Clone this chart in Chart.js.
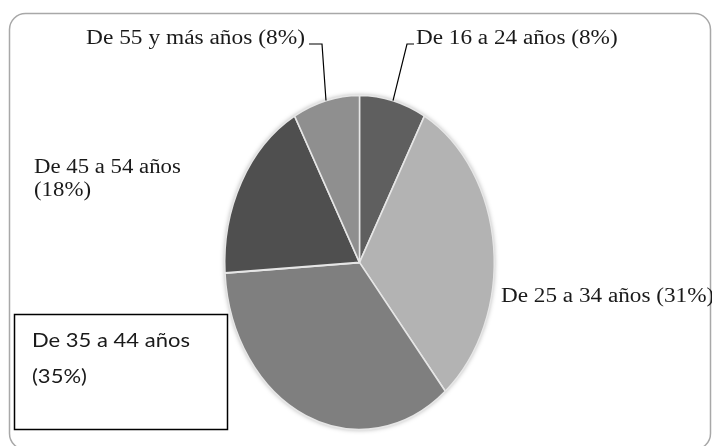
<!DOCTYPE html>
<html>
<head>
<meta charset="utf-8">
<script src="https://cdn.jsdelivr.net/npm/chart.js@4/dist/chart.umd.min.js"></script>
<style>
  body { margin: 0; background: #fff; }
  #wrap { width: 712px; height: 446px; }
</style>
</head>
<body>
<div id="wrap"><canvas id="graficoEdades" width="712" height="446"></canvas></div>
<script>
// datos del gráfico
const ageGroups = ['De 16 a 24 años', 'De 25 a 34 años', 'De 35 a 44 años', 'De 45 a 54 años', 'De 55 y más años'];
const shares = [8, 31, 35, 18, 8];

const sliceColors = ['#5f5f5f', '#b3b3b3', '#7f7f7f', '#4f4f4f', '#8f8f8f'];

// the pie in the picture is taller than wide
const STRETCH = 1.2407;

// frame, pie squash and shadow
const ellipsePlugin = {
  id: 'ellipse',
  beforeDraw(chart) {
    const ctx = chart.ctx;
    ctx.save();
    ctx.fillStyle = '#fff';
    ctx.fillRect(0, 0, chart.width, chart.height);
    ctx.strokeStyle = '#a8a8a8';
    ctx.lineWidth = 1.5;
    ctx.beginPath();
    ctx.roundRect(9.5, 13.5, 701, 436, 16);
    ctx.stroke();
    ctx.restore();
  },
  beforeDatasetsDraw(chart) {
    const arc = chart.getDatasetMeta(0).data[0];
    const ctx = chart.ctx;
    ctx.save();
    ctx.translate(arc.x, arc.y);
    ctx.scale(1, STRETCH);
    ctx.translate(-arc.x, -arc.y);
    ctx.save();
    ctx.shadowColor = 'rgba(0,0,0,0.35)';
    ctx.shadowBlur = 5;
    ctx.beginPath();
    ctx.arc(arc.x, arc.y, arc.outerRadius, 0, Math.PI * 2);
    ctx.fillStyle = '#fff';
    ctx.fill();
    ctx.restore();
  },
  afterDatasetsDraw(chart) {
    chart.ctx.restore();
  }
};

function drawStretched(ctx, text, x, y, sx) {
  ctx.save();
  ctx.translate(x, y);
  ctx.scale(sx, 1);
  ctx.fillText(text, 0, 0);
  ctx.restore();
}

// etiquetas con líneas guía
const labelPlugin = {
  id: 'sliceLabels',
  afterDraw(chart, args, opts) {
    const ctx = chart.ctx;
    const arcs = chart.getDatasetMeta(0).data;
    ctx.save();
    ctx.fillStyle = '#1a1a1a';
    ctx.textBaseline = 'alphabetic';
    ctx.textAlign = 'left';

    opts.items.forEach((item, i) => {
      const name = ageGroups[i];
      const pct = '(' + shares[i] + '%)';
      ctx.font = item.font;
      if (item.box) {
        ctx.strokeStyle = '#000';
        ctx.lineWidth = 1.5;
        ctx.strokeRect(item.box[0], item.box[1], item.box[2], item.box[3]);
      }
      if (item.split) {
        drawStretched(ctx, name, item.x, item.y, item.sx);
        drawStretched(ctx, pct, item.x, item.y + item.lineHeight, item.sx);
      } else {
        drawStretched(ctx, name + ' ' + pct, item.x, item.y, item.sx);
      }
      if (item.elbow) {
        const a = arcs[i];
        const mid = (a.startAngle + a.endAngle) / 2;
        const px = a.x + Math.cos(mid) * a.outerRadius;
        const py = a.y + Math.sin(mid) * a.outerRadius * STRETCH;
        ctx.strokeStyle = '#000';
        ctx.lineWidth = 1.2;
        ctx.beginPath();
        ctx.moveTo(px, py);
        ctx.lineTo(item.elbow[0], item.elbow[1]);
        ctx.lineTo(item.elbowEnd, item.elbow[1]);
        ctx.stroke();
      }
    });
    ctx.restore();
  }
};

const serif = '20px "Liberation Serif", "Times New Roman", serif';
const sans = '20px Lato, "Liberation Sans", Arial, sans-serif';

new Chart(document.getElementById('graficoEdades'), {
  type: 'pie',
  data: {
    labels: ageGroups,
    datasets: [{
      data: shares,
      backgroundColor: sliceColors,
      borderColor: '#e6e6e6',
      borderWidth: 1.5
    }]
  },
  options: {
    responsive: false,
    animation: false,
    layout: {
      padding: { left: 224, right: 217, top: 127, bottom: 48 }
    },
    plugins: {
      legend: { display: false },
      tooltip: { enabled: false },
      sliceLabels: {
        items: [
          { x: 416, y: 44, font: serif, sx: 1.16, elbow: [407, 44], elbowEnd: 414 },
          { x: 501, y: 302, font: serif, sx: 1.16 },
          { x: 32, y: 347, font: sans, sx: 1.1, split: true, lineHeight: 36, box: [14.5, 314.5, 213, 115] },
          { x: 34, y: 173, font: serif, sx: 1.14, split: true, lineHeight: 23 },
          { x: 86, y: 44, font: serif, sx: 1.17, elbow: [322, 44], elbowEnd: 309 }
        ]
      }
    }
  },
  plugins: [ellipsePlugin, labelPlugin]
});
</script>
</body>
</html>
